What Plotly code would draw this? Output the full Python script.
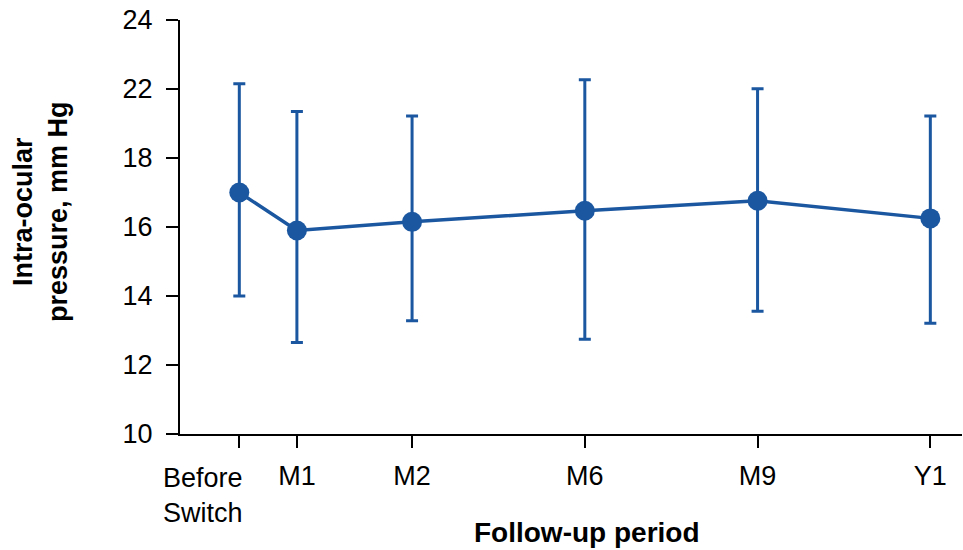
import plotly.graph_objects as go

# Data
periods = ["", "M1", "M2", "M6", "M9", "Y1"]
first_period = "Before<br>Switch"
months = [0, 1, 3, 6, 9, 12]
iop_mean = [17.0, 15.9, 16.15, 16.47, 16.76, 16.25]
iop_err_up = [3.15, 3.45, 3.07, 3.8, 3.25, 2.97]
iop_err_down = [3.0, 3.25, 2.87, 3.72, 3.2, 3.04]
ytick_vals = [10, 12, 14, 16, 18, 20, 22]
ytick_text = ["10", "12", "14", "16", "18", "22", "24"]
x_title = "<b>Follow-up period</b>"
y_title = "<b>Intra-ocular<br>pressure, mm Hg</b>"

color = "#1B57A0"
font_family = "Liberation Sans, Arial, sans-serif"

fig = go.Figure()
fig.add_trace(go.Scatter(
    x=months, y=iop_mean,
    mode="lines+markers",
    line=dict(color=color, width=3.5),
    marker=dict(color=color, size=20),
    error_y=dict(type="data", symmetric=False, array=iop_err_up,
                 arrayminus=iop_err_down, color=color, thickness=3, width=6),
    showlegend=False,
))

fig.update_layout(
    width=963, height=550,
    margin=dict(l=180, r=1, t=20, b=116),
    paper_bgcolor="white", plot_bgcolor="white",
    font=dict(family=font_family, size=27, color="black"),
    xaxis=dict(
        range=[-1.03, 12.55],
        tickmode="array", tickvals=months, ticktext=periods, tickangle=0,
        showline=True, linecolor="black", linewidth=2,
        ticks="outside", ticklen=12, tickwidth=2, tickcolor="black",
        ticklabelstandoff=5,
        showgrid=False, zeroline=False, automargin=False,
    ),
    yaxis=dict(
        range=[10, 22],
        tickmode="array", tickvals=ytick_vals, ticktext=ytick_text,
        showline=True, linecolor="black", linewidth=2,
        ticks="outside", ticklen=12, tickwidth=2, tickcolor="black",
        ticklabelstandoff=8,
        showgrid=False, zeroline=False, automargin=False,
    ),
    annotations=[
        dict(text=first_period, xref="x", yref="paper", x=months[0], y=-0.0652,
             xanchor="left", yanchor="top", xshift=-78, align="left",
             showarrow=False, font=dict(size=27)),
        dict(text=x_title, xref="paper", yref="paper", x=0.5, y=-0.239,
             xanchor="center", yanchor="middle", xshift=16, showarrow=False,
             font=dict(size=28)),
        dict(text=y_title, xref="paper", yref="paper", x=0, y=0.536,
             xanchor="center", yanchor="middle", xshift=-140, textangle=-90,
             showarrow=False, font=dict(size=27)),
    ],
)

fig.write_html("out.html", config={"displayModeBar": False},
               post_script="document.body.style.margin='0';document.body.style.overflow='hidden';")
